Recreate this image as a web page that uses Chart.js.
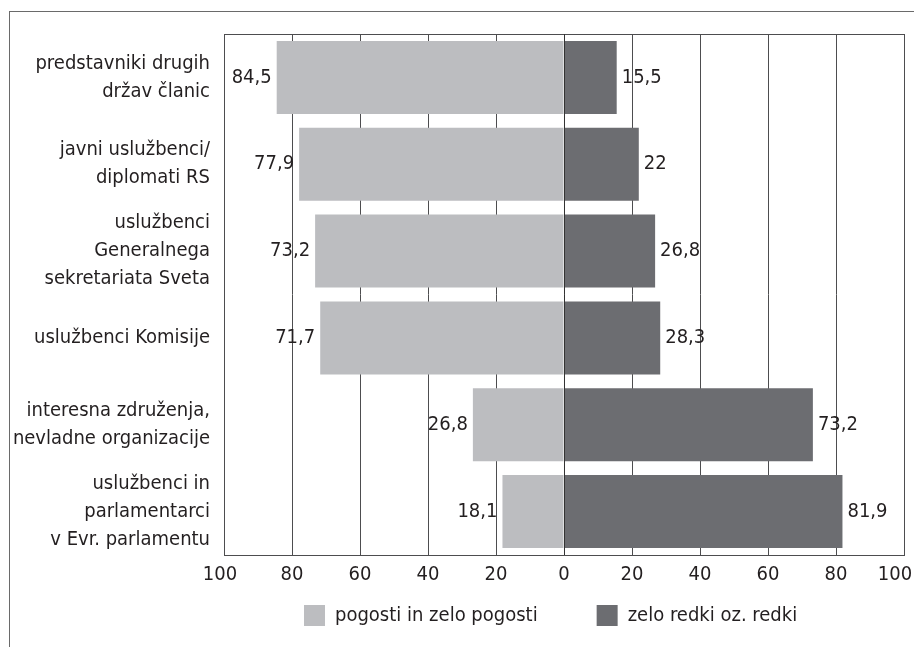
<!DOCTYPE html>
<html>
<head>
<meta charset="utf-8">
<script src="https://cdn.jsdelivr.net/npm/chart.js@4.4.0/dist/chart.umd.min.js"></script>
<style>
  html, body { margin: 0; padding: 0; background: #fff; }
  #wrap { position: relative; width: 914px; height: 647px; }
  #frame { position: absolute; left: 9px; top: 11px; right: 0; bottom: 0; border-top: 1px solid #6a6a6a; border-left: 1px solid #6a6a6a; }
  canvas { position: absolute; left: 0; top: 0; }
</style>
</head>
<body>
<div id="wrap">
  <div id="frame"></div>
  <canvas id="chart" width="914" height="647"></canvas>
</div>
<script>
  // ===== DATA =====
  const categories = [
    ["predstavniki drugih", "držav članic"],
    ["javni uslužbenci/", "diplomati RS"],
    ["uslužbenci", "Generalnega", "sekretariata Sveta"],
    "uslužbenci Komisije",
    ["interesna združenja,", "nevladne organizacije"],
    ["uslužbenci in", "parlamentarci", "v Evr. parlamentu"]
  ];
  const seriesNames = ["pogosti in zelo pogosti", "zelo redki oz. redki"];
  const often = [84.5, 77.9, 73.2, 71.7, 26.8, 18.1];
  const rare = [15.5, 22, 26.8, 28.3, 73.2, 81.9];
  const xTicks = [-100, -80, -60, -40, -20, 0, 20, 40, 60, 80, 100];

  const FONT = "'Liberation Sans Narrow', 'DejaVu Sans Condensed', sans-serif";
  const SIZE = 20;
  const TEXT = "#231f20";
  const LIGHT = "#bcbdc0";
  const DARK = "#6c6d71";
  const LINE = "#4d4d4f";

  const fmt = v => String(Math.abs(v)).replace(".", ",");

  // frame, zero line, value labels, legend placement
  const extras = {
    id: "extras",
    afterLayout(chart) {
      const lg = chart.legend;
      const pad = lg.options.labels.padding;
      lg.left = 304 - pad;
      lg.right = 914;
      lg.top = 605 - pad;
    },
    beforeDraw(chart) {
      // end tick labels sit a bit inward, as in the original
      const items = chart.scales.x.getLabelItems();
      items[0].options.translation[0] -= 4;
      items[items.length - 1].options.translation[0] -= 9;
    },
    afterDatasetsDraw(chart) {
      const { ctx, chartArea: a } = chart;
      const x = chart.scales.x;
      ctx.save();
      ctx.strokeStyle = LINE;
      ctx.lineWidth = 1;
      ctx.strokeRect(Math.round(a.left) + 0.5, Math.round(a.top) + 0.5, Math.round(a.right - a.left), Math.round(a.bottom - a.top));
      ctx.strokeStyle = "#333";
      ctx.beginPath();
      const zx = Math.round(x.getPixelForValue(0)) + 0.5;
      ctx.moveTo(zx, a.top);
      ctx.lineTo(zx, a.bottom);
      ctx.stroke();

      ctx.font = SIZE + "px " + FONT;
      ctx.fillStyle = TEXT;
      ctx.textBaseline = "middle";
      chart.data.datasets.forEach((ds, di) => {
        chart.getDatasetMeta(di).data.forEach((bar, i) => {
          const v = ds.data[i];
          if (v < 0) {
            ctx.textAlign = "right";
            ctx.fillText(fmt(v), bar.x - 5, bar.y);
          } else {
            ctx.textAlign = "left";
            ctx.fillText(fmt(v), bar.x + 5, bar.y);
          }
        });
      });
      ctx.restore();
    }
  };

  new Chart(document.getElementById("chart"), {
    type: "bar",
    data: {
      labels: categories,
      datasets: [
        { label: seriesNames[0], data: often.map(v => -v), backgroundColor: LIGHT },
        { label: seriesNames[1], data: rare, backgroundColor: DARK }
      ]
    },
    options: {
      indexAxis: "y",
      responsive: false,
      animation: false,
      layout: { padding: { top: 34, right: 10, left: 0, bottom: 0 } },
      datasets: { bar: { barPercentage: 0.84, categoryPercentage: 1 } },
      plugins: {
        tooltip: { enabled: false },
        legend: {
          position: "bottom",
          align: "start",
          maxHeight: 40,
          labels: {
            font: { family: FONT, size: SIZE },
            color: TEXT,
            boxWidth: 21,
            boxHeight: 21,
            padding: 59
          }
        }
      },
      scales: {
        x: {
          stacked: true,
          min: -100,
          max: 100,
          afterBuildTicks: s => { s.ticks = xTicks.map(v => ({ value: v })); },
          afterFit: s => { s.height = 52; s.paddingLeft = 0; s.paddingRight = 0; },
          grid: { color: LINE, lineWidth: 1, drawTicks: false },
          border: { display: false },
          ticks: {
            padding: 8,
            color: TEXT,
            font: { family: FONT, size: SIZE },
            callback: v => Math.abs(v)
          }
        },
        y: {
          stacked: true,
          afterFit: s => { s.width = 224; s.paddingTop = 0; s.paddingBottom = 0; },
          grid: { display: false, drawTicks: false },
          border: { display: false },
          ticks: {
            autoSkip: false,
            padding: 14,
            color: TEXT,
            font: { family: FONT, size: SIZE, lineHeight: 1.4 }
          }
        }
      }
    },
    plugins: [extras]
  });
</script>
</body>
</html>
